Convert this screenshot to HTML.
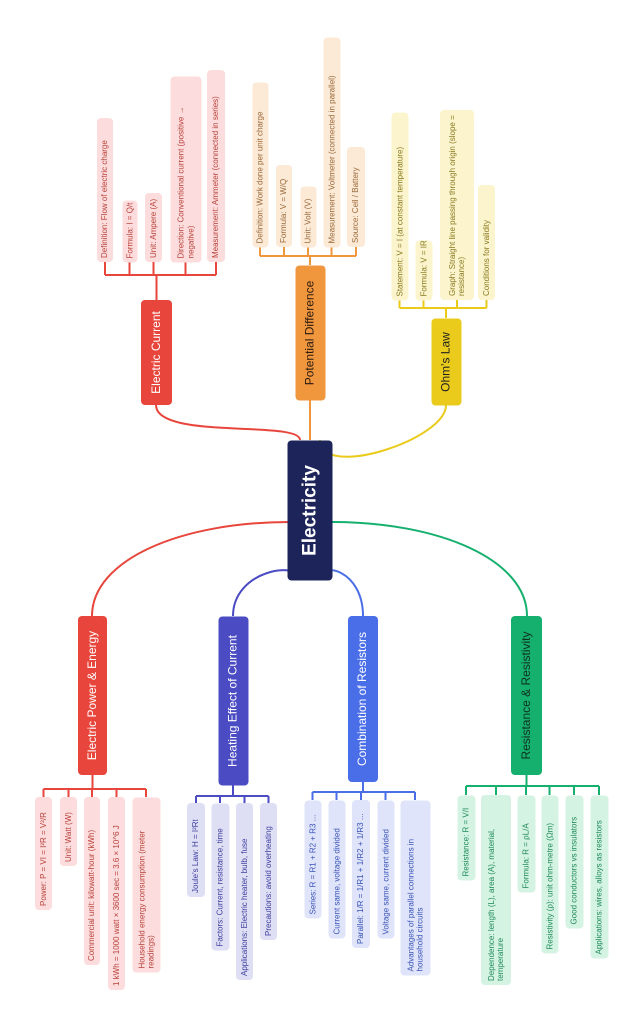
<!DOCTYPE html>
<html><head><meta charset="utf-8"><style>
html,body{margin:0;padding:0;background:#fff;}
#c{position:relative;width:644px;height:1024px;overflow:hidden;font-family:"Liberation Sans",sans-serif;}
.b{position:absolute;}
.r{position:absolute;display:flex;align-items:center;box-sizing:border-box;transform:rotate(-90deg);border-radius:4px;line-height:1.15;}
svg{position:absolute;left:0;top:0;}
</style></head><body><div id="c">
<svg width="644" height="1024" id="s" fill="none" stroke-width="2"></svg>
</div>
<script>
var c=document.getElementById('c'),s=document.getElementById('s');
function box(x,y,w,h,txt,bg,col,fs,fw,center){
 var o=document.createElement('div');o.className='b';
 o.style.cssText='left:'+x+'px;top:'+y+'px;width:'+w+'px;height:'+h+'px;';
 var i=document.createElement('div');i.className='r';
 i.style.cssText='width:'+h+'px;height:'+w+'px;left:'+((w-h)/2)+'px;top:'+((h-w)/2)+'px;background:'+bg+';color:'+col+';font-size:'+fs+'px;font-weight:'+fw+';padding:0 4px;'+(w<26?'white-space:nowrap;':'')+(center?'justify-content:center;text-align:center;':'justify-content:flex-start;');
 i.innerHTML=txt;o.appendChild(i);c.appendChild(o);
}
function path(d,col){var p=document.createElementNS('http://www.w3.org/2000/svg','path');p.setAttribute('d',d);p.setAttribute('stroke',col);s.appendChild(p);}
function group(br,leaves,by,top,col,lbg,lcol){
 var bx=br[0]+br[2]/2;
 box(br[0],br[1],br[2],br[3],br[4],col,br[5]||'#fff',12,'normal',true);
 var xs=[];
 leaves.forEach(function(l){box(l[0],l[1],l[2],l[3],l[4],lbg,lcol,8,'normal',false);
  var lx=l[0]+l[2]/2;xs.push(lx);
  var ly=top?l[1]+l[3]:l[1];
  path('M'+lx+' '+ly+' L'+lx+' '+by,col);});
 path('M'+xs[0]+' '+by+' L'+xs[xs.length-1]+' '+by,col);
 path('M'+bx+' '+by+' L'+bx+' '+(top?br[1]:br[1]+br[3]),col);
}
path('M300 440 C300 420 156 440 156 405','#e8463c');
path('M310 440 L310 400','#f0963c');
path('M320 440 C320 480 446 440 446 405','#eacb1c');
path('M290 522 C180 522 92 560 92 616','#e8463c');
path('M300 580 C300 560 233 570 233 616','#4b4bc4');
path('M320 580 C320 560 363 570 363 616','#4a6ee8');
path('M332 522 C440 522 527 560 527 616','#15b06e');
group([141,300,31,105,'Electric Current'],[
 [97,118,16,144,'Definition: Flow of electric charge'],
 [122,200,15,62,'Formula: I = Q/t'],
 [145,193,17,69,'Unit: Ampere (A)'],
 [170,76,31,186,'Direction: Conventional current (positive → negative)'],
 [207,70,18,192,'Measurement: Ammeter (connected in series)']],275,true,'#e8463c','#fcdcdc','#b8433c');
group([295,265,30,135,'Potential Difference',"#2a1a10"],[
 [252,82,16,165,'Definition: Work done per unit charge'],
 [276,165,16,82,'Formula: V = W/Q'],
 [300,186,16,61,'Unit: Volt (V)'],
 [323,37,17,210,'Measurement: Voltmeter (connected in parallel)'],
 [347,147,18,100,'Source: Cell / Battery']],256,true,'#f0963c','#fce9d6','#9a6a3a');
group([431,318,30,87,'Ohm\'s Law','#222'],[
 [391,112,17,188,'Statement: V = I (at constant temperature)'],
 [415,240,17,60,'Formula: V = IR'],
 [440,110,34,190,'Graph: Straight line passing through origin (slope = resistance)'],
 [478,185,17,115,'Conditions for validity']],308,true,'#eacb1c','#fbf4cc','#8a7a20');
group([78,616,29,159,'Electric Power &amp; Energy'],[
 [35,797,17,113,'Power: P = VI = I²R = V²/R'],
 [60,797,17,69,'Unit: Watt (W)'],
 [84,797,16,168,'Commercial unit: kilowatt-hour (kWh)'],
 [108,797,17,193,'1 kWh = 1000 watt × 3600 sec = 3.6 × 10^6 J'],
 [132,797,28,175,'Household energy consumption (meter readings)']],789,false,'#e8463c','#fcdcdc','#b8433c');
group([218,616,30,169,'Heating Effect of Current'],[
 [187,803,18,94,'Joule\'s Law: H = I²Rt'],
 [211,803,18,147,'Factors: Current, resistance, time'],
 [236,803,17,177,'Applications: Electric heater, bulb, fuse'],
 [260,803,17,137,'Precautions: avoid overheating']],796,false,'#4b4bc4','#dedef4','#4040a0');
group([348,616,30,166,'Combination of Resistors'],[
 [304,800,17,118,'Series: R = R1 + R2 + R3 ...'],
 [328,800,17,138,'Current same, voltage divided'],
 [352,800,18,148,'Parallel: 1/R = 1/R1 + 1/R2 + 1/R3 ...'],
 [377,800,17,138,'Voltage same, current divided'],
 [400,800,30,175,'Advantages of parallel connections in household circuits']],792,false,'#4a6ee8','#dfe4fb','#3b55b5');
group([511,616,31,159,'Resistance &amp; Resistivity','#10301f'],[
 [457,795,18,85,'Resistance: R = V/I'],
 [481,795,30,190,'Dependence: length (L), area (A), material, temperature'],
 [517,795,18,97,'Formula: R = ρL/A'],
 [541,795,17,158,'Resistivity (ρ): unit ohm-metre (Ωm)'],
 [565,795,18,133,'Good conductors vs insulators'],
 [590,795,18,163,'Applications: wires, alloys as resistors']],786,false,'#15b06e','#d5f3e3','#1f8a5a');
box(287,440,45,140,'Electricity','#1c2459','#fff',19,'bold',true);
</script>
</body></html>
